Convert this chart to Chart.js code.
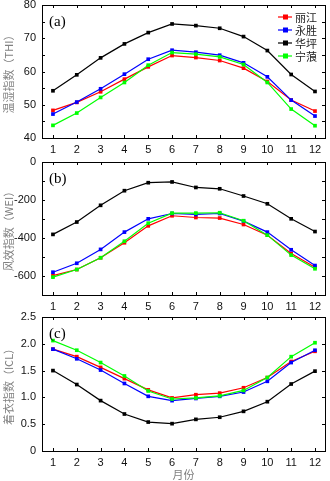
<!DOCTYPE html>
<html>
<head>
<meta charset="utf-8">
<script src="https://cdn.jsdelivr.net/npm/chart.js@4"></script>
<style>
  body { margin: 0; background: #fff; }
  #wrap { position: relative; width: 330px; height: 481px; }
  canvas { position: absolute; left: 0; }
</style>
</head>
<body>
<div id="wrap">
  <canvas id="thi" style="top:0px"></canvas>
  <canvas id="wei" style="top:157px"></canvas>
  <canvas id="icl" style="top:312px"></canvas>
</div>
<script>
// meses
const meses = [1, 2, 3, 4, 5, 6, 7, 8, 9, 10, 11, 12];
const nomes = ['丽江', '永胜', '华坪', '宁蒗'];
const cores = ['#ff0000', '#0000ff', '#000000', '#00ff00'];

// (a) 温湿指数 THI
const thiLijiang = [48.3, 50.7, 53.9, 57.7, 61.4, 64.8, 64.2, 63.3, 61.0, 57.0, 51.4, 48.1];
const thiYongsheng = [47.2, 50.8, 54.8, 59.2, 63.7, 66.4, 65.8, 64.9, 62.6, 58.4, 51.4, 46.6];
const thiHuaping = [54.2, 59.0, 64.1, 68.3, 71.7, 74.3, 73.8, 73.0, 70.5, 66.3, 59.1, 54.0];
const thiNinglang = [43.8, 47.5, 52.2, 56.7, 61.9, 65.7, 65.2, 64.4, 62.1, 56.7, 48.7, 43.7];

// (b) 风效指数 WEI
const weiLijiang = [-598, -566, -504, -425, -336, -283, -292, -295, -329, -385, -482, -554];
const weiYongsheng = [-580, -533, -460, -369, -299, -271, -276, -271, -311, -369, -462, -545];
const weiHuaping = [-381, -316, -228, -151, -109, -105, -134, -141, -179, -220, -299, -366];
const weiNinglang = [-606, -566, -504, -417, -322, -269, -269, -267, -309, -385, -490, -562];

// (c) 着衣指数 ICL
const iclLijiang = [1.90, 1.76, 1.56, 1.35, 1.14, 0.99, 1.05, 1.08, 1.18, 1.37, 1.67, 1.86];
const iclYongsheng = [1.90, 1.72, 1.51, 1.26, 1.02, 0.94, 0.98, 1.02, 1.10, 1.30, 1.65, 1.88];
const iclHuaping = [1.50, 1.24, 0.94, 0.69, 0.54, 0.51, 0.59, 0.63, 0.74, 0.92, 1.25, 1.49];
const iclNinglang = [2.06, 1.88, 1.65, 1.40, 1.12, 0.97, 0.99, 1.03, 1.13, 1.37, 1.76, 2.02];

const fonteTick = { family: 'Liberation Sans, Arial, sans-serif', size: 11 };
const fonteCjk = { family: 'Noto Sans CJK SC, sans-serif', size: 11 };

// moldura, ticks para dentro, letra do painel e legenda
const molduraPlugin = {
    id: 'moldura',
    afterDraw(chart, args, opts) {
        const ctx = chart.ctx;
        const a = chart.chartArea;
        const sx = chart.scales.x, sy = chart.scales.y;
        ctx.save();
        ctx.strokeStyle = '#000';
        ctx.lineWidth = 1;
        ctx.beginPath();
        sy.ticks.forEach(function (t) {
            var py = Math.round(sy.getPixelForValue(t.value)) + 0.5;
            ctx.moveTo(a.left, py); ctx.lineTo(a.left + 3, py);
            ctx.moveTo(a.right, py); ctx.lineTo(a.right - 3, py);
        });
        meses.forEach(function (m) {
            var px = Math.round(sx.getPixelForValue(m)) + 0.5;
            ctx.moveTo(px, a.bottom); ctx.lineTo(px, a.bottom - 3);
            ctx.moveTo(px, a.top); ctx.lineTo(px, a.top + 3);
        });
        ctx.stroke();
        ctx.strokeRect(Math.round(a.left) + 0.5, Math.round(a.top) + 0.5, Math.round(a.right - a.left), Math.round(a.bottom - a.top));

        ctx.fillStyle = '#000';
        ctx.font = '15px "Liberation Serif", serif';
        ctx.textBaseline = 'middle';
        ctx.textAlign = 'left';
        ctx.fillText(opts.letra, a.left + 7, a.top + 17);

        if (opts.legenda) {
            chart.data.datasets.forEach(function (ds, i) {
                var y = a.top + 12 + i * 13;
                var x0 = a.right - 47;
                ctx.strokeStyle = ds.borderColor;
                ctx.lineWidth = 1.2;
                ctx.beginPath();
                ctx.moveTo(x0, y); ctx.lineTo(x0 + 14, y);
                ctx.stroke();
                ctx.fillStyle = ds.borderColor;
                ctx.fillRect(x0 + 5, y - 2.5, 5, 5);
                ctx.fillStyle = '#222';
                ctx.font = '11px "Noto Sans CJK SC", sans-serif';
                ctx.fillText(ds.label, x0 + 17, y + 0.5);
            });
        }
        ctx.restore();
    }
};

function montarSeries(listas) {
    const ordens = [3, 2, 1, 0];
    return listas.map(function (lista, i) {
        return {
            label: nomes[i],
            data: lista.map(function (v, k) { return { x: meses[k], y: v }; }),
            borderColor: cores[i],
            backgroundColor: cores[i],
            borderWidth: 1.2,
            pointStyle: 'rect',
            pointRadius: 2.6,
            pointBorderWidth: 0,
            tension: 0,
            order: ordens[i]
        };
    });
}

function plotarPainel(id, altura, listas, eixoY, tituloY, letra, legenda, alturaX, tituloX) {
    const cv = document.getElementById(id);
    cv.width = 330; cv.height = altura;
    cv.style.width = '330px'; cv.style.height = altura + 'px';
    const config = {
        type: 'line',
        data: { datasets: montarSeries(listas) },
        options: {
            responsive: false,
            animation: false,
            layout: { padding: { top: 5, right: 5, left: 0, bottom: 0 } },
            plugins: {
                legend: { display: false },
                tooltip: { enabled: false },
                moldura: { letra: letra, legenda: legenda }
            },
            scales: {
                x: {
                    type: 'linear',
                    min: 0.54, max: 12.42,
                    grid: { display: false, drawTicks: false },
                    border: { display: false },
                    afterBuildTicks: function (s) { s.ticks = meses.map(function (m) { return { value: m }; }); },
                    ticks: { color: '#111', font: fonteTick, padding: 5, maxRotation: 0, autoSkip: false },
                    title: tituloX ? { display: true, text: tituloX, color: '#808080', font: fonteCjk, padding: { top: 0, bottom: 0 } } : { display: false },
                    afterFit: function (s) { s.height = alturaX; s.paddingLeft = 0; s.paddingRight = 0; }
                },
                y: {
                    min: eixoY.min, max: eixoY.max,
                    grid: { display: false, drawTicks: false },
                    border: { display: false },
                    ticks: {
                        stepSize: eixoY.passo, color: '#111', font: fonteTick, padding: 6,
                        callback: eixoY.rotulo
                    },
                    title: { display: true, text: tituloY, color: '#808080', font: fonteCjk, padding: { top: 2, bottom: 0 } },
                    afterFit: function (s) { s.width = 42; s.paddingTop = 0; s.paddingBottom = 0; }
                }
            }
        },
        plugins: [molduraPlugin]
    };
    return new Chart(cv.getContext('2d'), config);
}

function multiplo(v, m) {
    return Math.abs(v / m - Math.round(v / m)) < 1e-6;
}

plotarPainel('thi', 157, [thiLijiang, thiYongsheng, thiHuaping, thiNinglang],
    { min: 40, max: 80, passo: 5, rotulo: function (v) { return multiplo(v, 10) ? v : ''; } },
    '温湿指数（THI）', '(a)', true, 19, null);

plotarPainel('wei', 157, [weiLijiang, weiYongsheng, weiHuaping, weiNinglang],
    { min: -700, max: 0, passo: 100, rotulo: function (v) { return multiplo(v, 200) ? v : ''; } },
    '风效指数（WEI）', '(b)', false, 19, null);

plotarPainel('icl', 169, [iclLijiang, iclYongsheng, iclHuaping, iclNinglang],
    { min: 0, max: 2.5, passo: 0.25, rotulo: function (v) { return multiplo(v, 0.5) ? (v === 0 ? '0' : v.toFixed(1)) : ''; } },
    '着衣指数（ICL）', '(c)', false, 30, '月份');
</script>
</body>
</html>
